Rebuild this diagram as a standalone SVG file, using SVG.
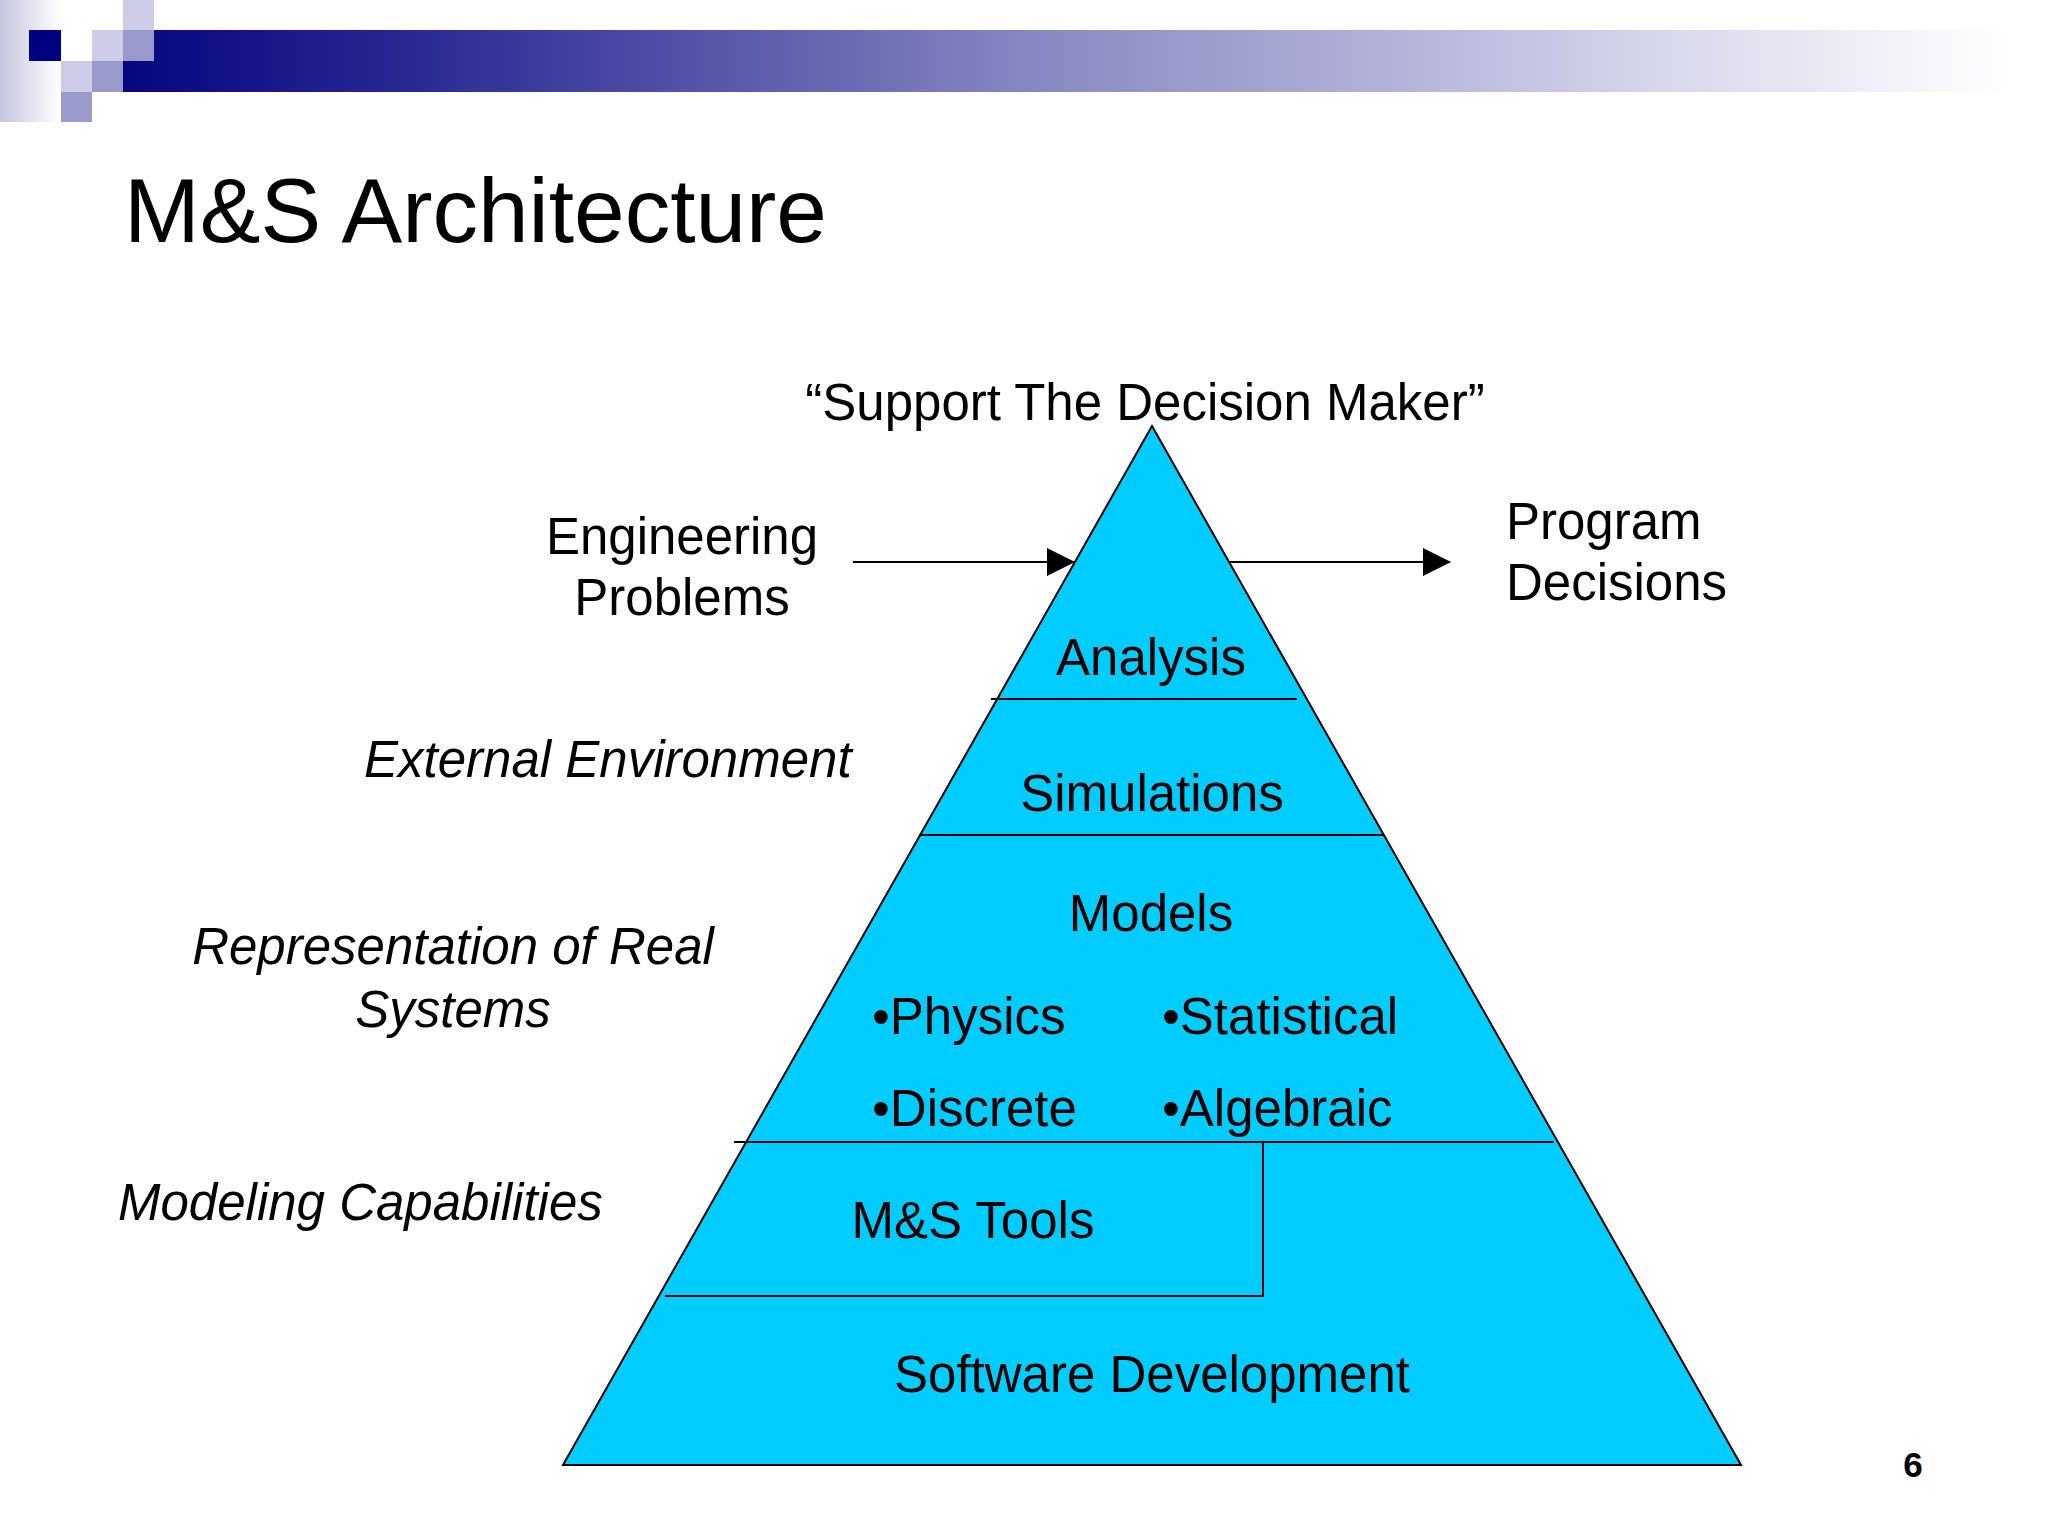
<svg xmlns="http://www.w3.org/2000/svg" width="2048" height="1536" viewBox="0 0 2048 1536">
<defs>
<linearGradient id="bar" gradientUnits="userSpaceOnUse" x1="123" y1="0" x2="2010" y2="0">
<stop offset="0" stop-color="#06067f"/>
<stop offset="0.15" stop-color="#282893"/>
<stop offset="0.5" stop-color="#8c8cc4"/>
<stop offset="0.68" stop-color="#b4b4da"/>
<stop offset="0.82" stop-color="#d8d8ec"/>
<stop offset="1" stop-color="#ffffff"/>
</linearGradient>
<linearGradient id="strip" x1="0" y1="0" x2="1" y2="0">
<stop offset="0" stop-color="#c4c4de"/>
<stop offset="1" stop-color="#ffffff"/>
</linearGradient>
<marker id="arr" markerWidth="28" markerHeight="28" refX="27" refY="14" orient="auto" markerUnits="userSpaceOnUse">
<path d="M0,0 L28,14 L0,28 Z" fill="#000"/>
</marker>
</defs>
<style>
.t{font-family:"Liberation Sans",Arial,sans-serif;font-size:51px;fill:#000}
.i{font-style:italic}
.c{text-anchor:middle}
.ln{stroke:#000;stroke-width:2;fill:none}
.dk{fill:#000080}.lt{fill:#ccccE6}.md{fill:#9999cc}
</style>
<rect width="2048" height="1536" fill="#ffffff"/>
<g id="header">
<rect x="0" y="0" width="60" height="122" fill="url(#strip)"/>
<rect x="123" y="30" width="1900" height="62" fill="url(#bar)"/>
<rect class="dk" x="29" y="30" width="32" height="31"/>
<rect class="lt" x="123" y="0" width="31" height="30"/>
<rect class="lt" x="92" y="30" width="31" height="31"/>
<rect class="md" x="123" y="30" width="31" height="31"/>
<rect class="lt" x="61" y="61" width="31" height="31"/>
<rect class="md" x="92" y="61" width="31" height="31"/>
<rect class="md" x="61" y="92" width="31" height="30"/>
</g>
<text class="t" x="124" y="242" style="font-size:91px">M&amp;S Architecture</text>
<g id="pyramid">
<polygon points="1152,426 1741,1465 563,1465" fill="#00ccff" stroke="#000" stroke-width="2"/>
<line class="ln" x1="991" y1="699" x2="1297" y2="699"/>
<line class="ln" x1="919" y1="835" x2="1383" y2="835"/>
<line class="ln" x1="734" y1="1142" x2="1554" y2="1142"/>
<polyline class="ln" points="1263,1142 1263,1296 665,1296"/>
</g>
<g id="layer-analysis"><text class="t c" x="1151" y="675">Analysis</text></g>
<g id="layer-simulations"><text class="t c" x="1152" y="811">Simulations</text></g>
<g id="layer-models">
<text class="t c" x="1151" y="931">Models</text>
<text class="t" x="872" y="1034">•Physics</text>
<text class="t" x="1162" y="1034">•Statistical</text>
<text class="t" x="872" y="1126">•Discrete</text>
<text class="t" x="1162" y="1126">•Algebraic</text>
</g>
<g id="layer-tools"><text class="t c" x="973" y="1238">M&amp;S Tools</text></g>
<g id="layer-software"><text class="t c" x="1152" y="1392">Software Development</text></g>
<g id="label-support"><text class="t c" x="1145" y="420">“Support The Decision Maker”</text></g>
<g id="label-engineering"><text class="t c" x="682" y="554">Engineering</text><text class="t c" x="682" y="615">Problems</text></g>
<g id="label-program"><text class="t" x="1506" y="539">Program</text><text class="t" x="1506" y="600">Decisions</text></g>
<g id="label-external"><text class="t i" x="364" y="777">External Environment</text></g>
<g id="label-representation"><text class="t i c" x="453" y="964">Representation of Real</text><text class="t i c" x="453" y="1027">Systems</text></g>
<g id="label-modeling"><text class="t i" x="118" y="1220">Modeling Capabilities</text></g>
<g id="connectors">
<line class="ln" x1="853" y1="562" x2="1074" y2="562" marker-end="url(#arr)"/>
<line class="ln" x1="1230" y1="562" x2="1450" y2="562" marker-end="url(#arr)"/>
</g>
<text x="1913" y="1477" style="font-family:'Liberation Sans',Arial,sans-serif;font-size:35px;font-weight:bold;text-anchor:middle">6</text>
</svg>
